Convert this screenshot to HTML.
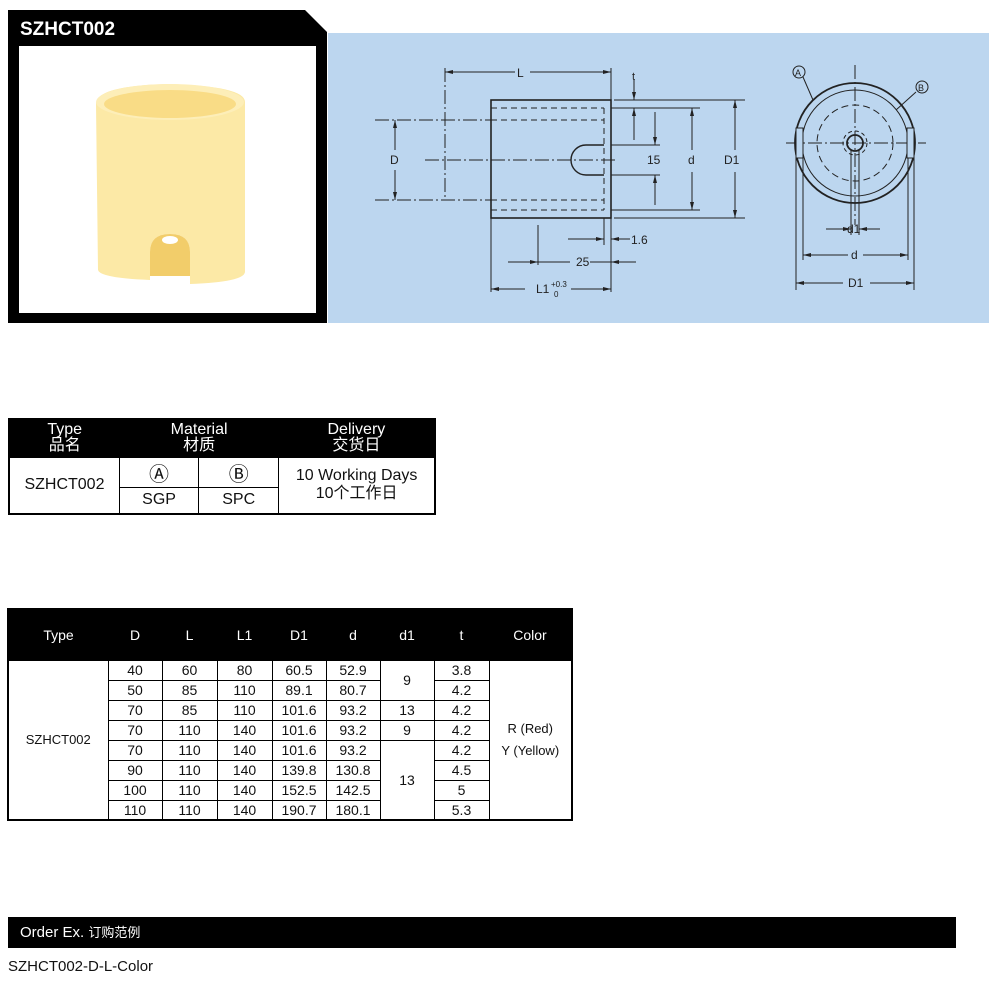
<!DOCTYPE html>
<html><head><meta charset="utf-8"><style>
body{margin:0;width:1000px;height:989px;background:#fff;position:relative;font-family:"Liberation Sans","Noto Sans CJK SC",sans-serif;overflow:hidden}
.abs{position:absolute}
table{border-collapse:collapse;position:absolute}
td{text-align:center;padding:0;font-size:14px;color:#111}
</style></head><body>
<svg class="abs" style="left:0;top:0" width="1000" height="989">
<polygon points="8,10 305,10 327,32 327,323 8,323" fill="#000"/>
<rect x="328" y="33" width="661" height="290" fill="#bcd6ef"/>
<rect x="19" y="46" width="297" height="267" fill="#fff"/>
<text x="20" y="35" font-family="Liberation Sans" font-weight="bold" font-size="19" fill="#fff">SZHCT002</text>
<!-- product -->
<path d="M96,104 Q96,86 167,84 Q245,86 245,102 L245,272 Q244,282 190,284 L190,252 Q190,234 170,234 Q150,234 150,252 L150,280 Q100,278 98,270 Z" fill="#fce9a6"/>
<ellipse cx="170" cy="102" rx="74" ry="18" fill="#fdeeb8"/>
<ellipse cx="170" cy="104" rx="66" ry="14" fill="#f9dc86"/>
<path d="M150,252 Q150,234 170,234 Q190,234 190,252 L190,276 L150,276Z" fill="#f2cd6a"/>
<ellipse cx="170" cy="240" rx="8" ry="4" fill="#fff"/>
<g stroke="#222" fill="none" stroke-width="1">
<rect x="491" y="100" width="120" height="118" stroke-width="1.6"/>
<g stroke-dasharray="6,4"><line x1="491" y1="108" x2="604" y2="108"/><line x1="491" y1="210" x2="604" y2="210"/><line x1="604" y1="108" x2="604" y2="210"/><line x1="491" y1="120" x2="604" y2="120"/><line x1="491" y1="200" x2="604" y2="200"/></g>
<g stroke-dasharray="14,3,2,3"><line x1="375" y1="120" x2="491" y2="120"/><line x1="375" y1="200" x2="491" y2="200"/><line x1="445" y1="68" x2="445" y2="200"/><line x1="425" y1="160" x2="618" y2="160"/>
<line x1="855" y1="65" x2="855" y2="225"/><line x1="786" y1="143" x2="926" y2="143"/></g>
<path d="M604,145 L586,145 A15,15 0 0 0 586,175 L604,175" stroke-width="1.4"/>
<line x1="395" y1="120" x2="395" y2="150"/><line x1="395" y1="170" x2="395" y2="200"/>
<line x1="445" y1="72" x2="515" y2="72"/><line x1="530" y1="72" x2="611" y2="72"/><line x1="611" y1="68" x2="611" y2="100"/>
<line x1="611" y1="145" x2="660" y2="145"/><line x1="611" y1="175" x2="660" y2="175"/>
<line x1="655" y1="112" x2="655" y2="145"/><line x1="655" y1="175" x2="655" y2="205"/>
<line x1="611" y1="108" x2="700" y2="108"/><line x1="692" y1="108" x2="692" y2="150"/><line x1="692" y1="172" x2="692" y2="210"/><line x1="611" y1="210" x2="700" y2="210"/>
<line x1="614" y1="100" x2="745" y2="100"/><line x1="614" y1="218" x2="745" y2="218"/><line x1="735" y1="100" x2="735" y2="150"/><line x1="735" y1="172" x2="735" y2="218"/>
<line x1="634" y1="80" x2="634" y2="100"/><line x1="634" y1="108" x2="634" y2="140"/>
<line x1="491" y1="218" x2="491" y2="292"/><line x1="611" y1="218" x2="611" y2="292"/><line x1="604" y1="218" x2="604" y2="245"/><line x1="538" y1="225" x2="538" y2="265"/>
<line x1="491" y1="289" x2="525" y2="289"/><line x1="571" y1="289" x2="611" y2="289"/>
<line x1="508" y1="262" x2="570" y2="262"/><line x1="590" y1="262" x2="636" y2="262"/>
<line x1="568" y1="239" x2="604" y2="239"/><line x1="611" y1="239" x2="630" y2="239"/>
<circle cx="855" cy="143" r="60" stroke-width="1.8"/><circle cx="855" cy="143" r="53"/>
<circle cx="855" cy="143" r="38" stroke-dasharray="7,4"/>
<circle cx="855" cy="143" r="8" stroke-width="1.8"/><circle cx="855" cy="143" r="12" stroke-dasharray="4,3"/>
<rect x="796" y="128" width="7" height="30" fill="#bcd6ef"/><rect x="907" y="128" width="7" height="30" fill="#bcd6ef"/>
<line x1="796" y1="143" x2="796" y2="290"/><line x1="914" y1="143" x2="914" y2="290"/><line x1="803" y1="158" x2="803" y2="260"/><line x1="908" y1="158" x2="908" y2="260"/>
<line x1="851" y1="150" x2="851" y2="235"/><line x1="859" y1="150" x2="859" y2="235"/>
<line x1="826" y1="229" x2="851" y2="229"/><line x1="859" y1="229" x2="880" y2="229"/>
<line x1="803" y1="255" x2="848" y2="255"/><line x1="863" y1="255" x2="908" y2="255"/>
<line x1="796" y1="283" x2="843" y2="283"/><line x1="870" y1="283" x2="914" y2="283"/>
<line x1="803" y1="77" x2="813" y2="100"/><line x1="916" y1="92" x2="896" y2="110"/>
<circle cx="799" cy="72" r="6"/><circle cx="922" cy="87" r="6"/>
</g>
<g fill="#222" font-family="Liberation Sans" font-size="12">
<text x="390" y="164">D</text><text x="517" y="77">L</text><text x="632" y="80" font-size="11">t</text>
<text x="647" y="164">15</text><text x="688" y="164">d</text><text x="724" y="164">D1</text>
<text x="631" y="244">1.6</text><text x="576" y="266">25</text>
<text x="536" y="293">L1</text><text x="551" y="287" font-size="8">+0.3</text><text x="554" y="297" font-size="8">0</text>
<text x="847" y="233">d1</text><text x="851" y="259">d</text><text x="848" y="287">D1</text>
<text x="795" y="76" font-size="9">A</text><text x="918" y="91" font-size="9">B</text>
</g>
<g fill="#222">
<polygon points="445,72 453,70 453,74"/><polygon points="611,72 603,70 603,74"/>
<polygon points="395,120 393,128 397,128"/><polygon points="395,200 393,192 397,192"/>
<polygon points="655,145 653,137 657,137"/><polygon points="655,175 653,183 657,183"/>
<polygon points="692,108 690,116 694,116"/><polygon points="692,210 690,202 694,202"/>
<polygon points="735,100 733,108 737,108"/><polygon points="735,218 733,210 737,210"/>
<polygon points="634,100 632,92 636,92"/><polygon points="634,108 632,116 636,116"/>
<polygon points="604,239 596,237 596,241"/><polygon points="611,239 619,237 619,241"/>
<polygon points="538,262 530,260 530,264"/><polygon points="611,262 619,260 619,264"/>
<polygon points="491,289 499,287 499,291"/><polygon points="611,289 603,287 603,291"/>
<polygon points="851,229 843,227 843,231"/><polygon points="859,229 867,227 867,231"/>
<polygon points="803,255 811,253 811,257"/><polygon points="908,255 900,253 900,257"/>
<polygon points="796,283 804,281 804,285"/><polygon points="914,283 906,281 906,285"/>
</g>
</svg>

<table style="left:8px;top:418px;width:428px;border:2px solid #000">
<tr style="background:#000;height:38px"><td style="color:#fff;font-size:16px;line-height:16px;width:110px">Type<br>品名</td><td colspan="2" style="color:#fff;font-size:16px;line-height:16px">Material<br>材质</td><td style="color:#fff;font-size:16px;line-height:16px;width:157px">Delivery<br>交货日</td></tr>
<tr style="height:29px"><td rowspan="2" style="border:1px solid #000;font-size:16px">SZHCT002</td><td style="border:1px solid #000;width:79px;font-size:20px">Ⓐ</td><td style="border:1px solid #000;width:80px;font-size:20px">Ⓑ</td><td rowspan="2" style="border:1px solid #000;font-size:16px;line-height:18px">10 Working Days<br>10个工作日</td></tr>
<tr style="height:27px"><td style="border:1px solid #000;font-size:16px">SGP</td><td style="border:1px solid #000;font-size:16px">SPC</td></tr>
</table>

<table style="left:7px;top:608px;width:566px;border:2px solid #000">
<tr style="background:#000;height:51px"><td style="color:#fff;width:99px">Type</td><td style="color:#fff;width:54px">D</td><td style="color:#fff;width:55px">L</td><td style="color:#fff;width:55px">L1</td><td style="color:#fff;width:54px">D1</td><td style="color:#fff;width:54px">d</td><td style="color:#fff;width:54px">d1</td><td style="color:#fff;width:55px">t</td><td style="color:#fff">Color</td></tr>
<tr style="height:20px"><td rowspan="8" style="border:1px solid #000;font-size:13px">SZHCT002</td><td style="border:1px solid #000">40</td><td style="border:1px solid #000">60</td><td style="border:1px solid #000">80</td><td style="border:1px solid #000">60.5</td><td style="border:1px solid #000">52.9</td><td rowspan="2" style="border:1px solid #000">9</td><td style="border:1px solid #000">3.8</td><td rowspan="8" style="border:1px solid #000;line-height:22px;font-size:13px">R (Red)<br>Y (Yellow)</td></tr>
<tr style="height:20px"><td style="border:1px solid #000">50</td><td style="border:1px solid #000">85</td><td style="border:1px solid #000">110</td><td style="border:1px solid #000">89.1</td><td style="border:1px solid #000">80.7</td><td style="border:1px solid #000">4.2</td></tr>
<tr style="height:20px"><td style="border:1px solid #000">70</td><td style="border:1px solid #000">85</td><td style="border:1px solid #000">110</td><td style="border:1px solid #000">101.6</td><td style="border:1px solid #000">93.2</td><td style="border:1px solid #000">13</td><td style="border:1px solid #000">4.2</td></tr>
<tr style="height:20px"><td style="border:1px solid #000">70</td><td style="border:1px solid #000">110</td><td style="border:1px solid #000">140</td><td style="border:1px solid #000">101.6</td><td style="border:1px solid #000">93.2</td><td style="border:1px solid #000">9</td><td style="border:1px solid #000">4.2</td></tr>
<tr style="height:20px"><td style="border:1px solid #000">70</td><td style="border:1px solid #000">110</td><td style="border:1px solid #000">140</td><td style="border:1px solid #000">101.6</td><td style="border:1px solid #000">93.2</td><td rowspan="4" style="border:1px solid #000">13</td><td style="border:1px solid #000">4.2</td></tr>
<tr style="height:20px"><td style="border:1px solid #000">90</td><td style="border:1px solid #000">110</td><td style="border:1px solid #000">140</td><td style="border:1px solid #000">139.8</td><td style="border:1px solid #000">130.8</td><td style="border:1px solid #000">4.5</td></tr>
<tr style="height:20px"><td style="border:1px solid #000">100</td><td style="border:1px solid #000">110</td><td style="border:1px solid #000">140</td><td style="border:1px solid #000">152.5</td><td style="border:1px solid #000">142.5</td><td style="border:1px solid #000">5</td></tr>
<tr style="height:20px"><td style="border:1px solid #000">110</td><td style="border:1px solid #000">110</td><td style="border:1px solid #000">140</td><td style="border:1px solid #000">190.7</td><td style="border:1px solid #000">180.1</td><td style="border:1px solid #000">5.3</td></tr>
</table>

<div class="abs" style="left:8px;top:917px;width:948px;height:31px;background:#000;color:#fff;font-size:15px;line-height:31px"><span style="padding-left:12px">Order Ex.</span> <span style="font-size:13px">订购范例</span></div>
<div class="abs" style="left:8px;top:958px;font-size:15px;color:#111">SZHCT002-D-L-Color</div>
</body></html>
